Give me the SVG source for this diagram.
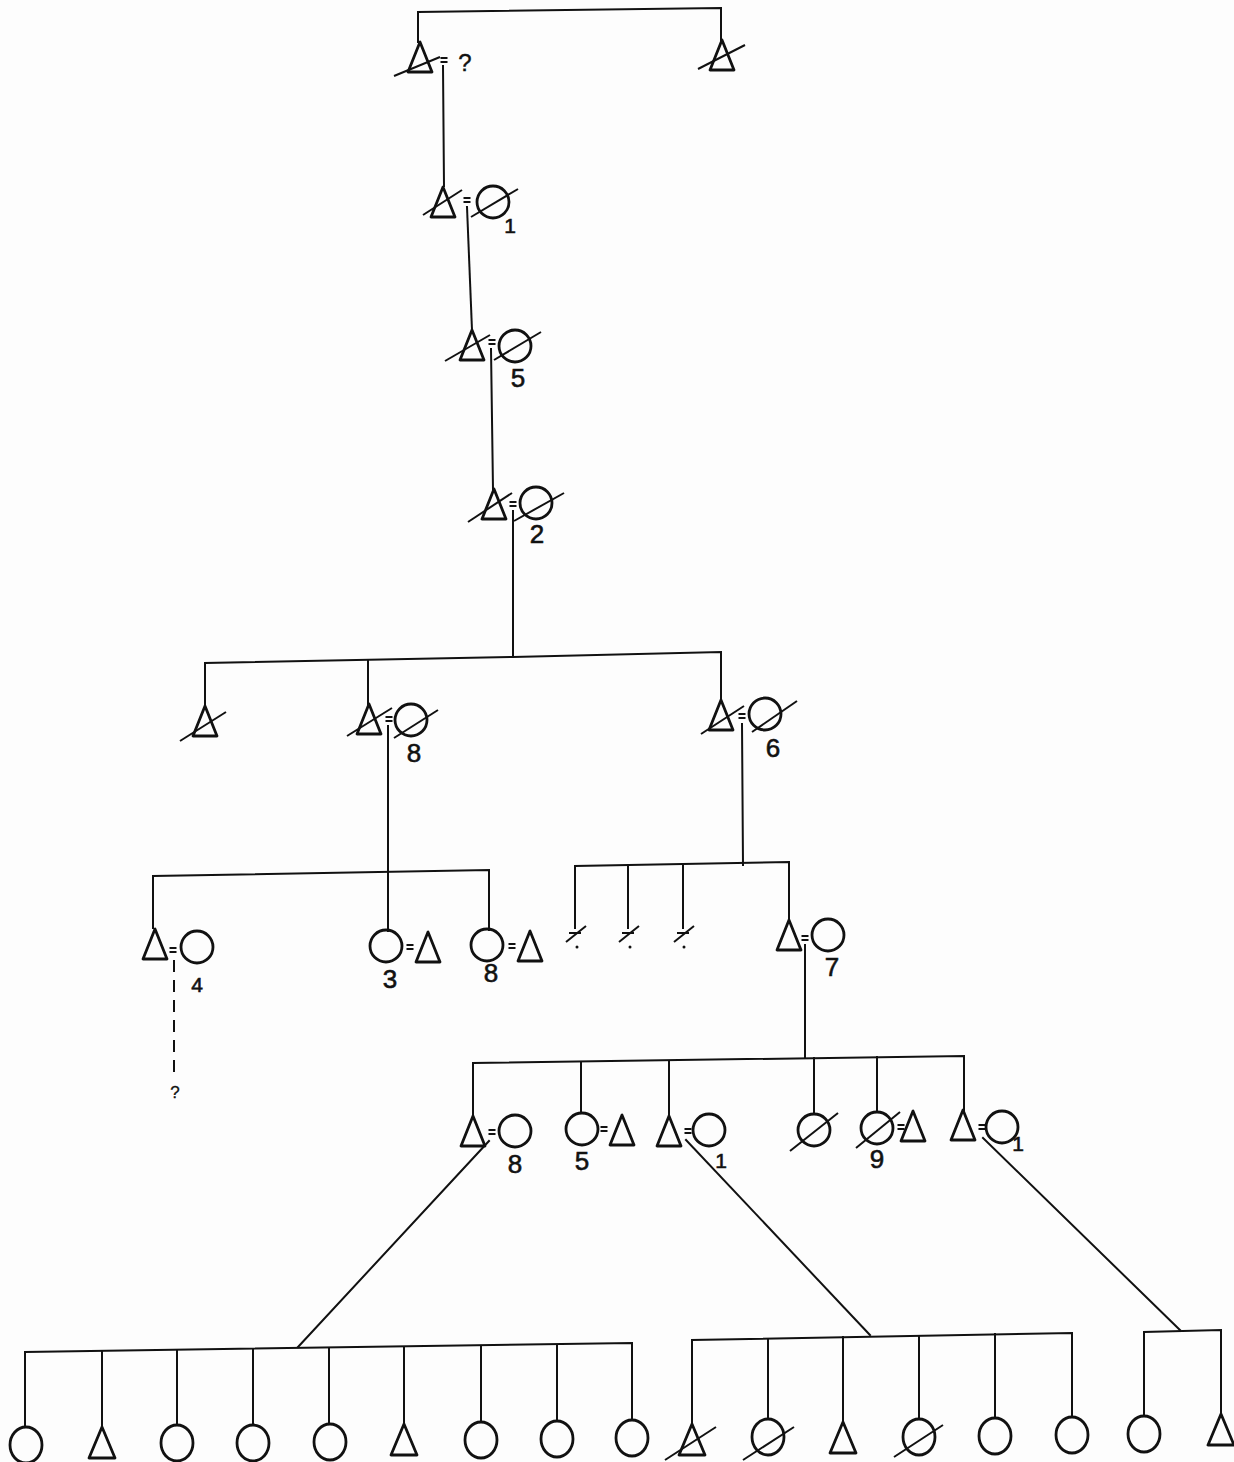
<svg xmlns="http://www.w3.org/2000/svg" xmlns:xlink="http://www.w3.org/1999/xlink" width="1234" height="1462" viewBox="0 0 1234 1462">
<style>
.bg{fill:#fdfdfd}
.ln{stroke:#111;stroke-width:2;fill:none;stroke-linecap:square}
.sh{stroke:#111;stroke-width:2.8;fill:none;stroke-linejoin:round}
.sl{stroke:#111;stroke-width:2;fill:none}
.eq{stroke:#111;stroke-width:2.2;fill:none}
.dash{stroke:#111;stroke-width:2;fill:none;stroke-dasharray:12,8}
.lbl{font-family:"Liberation Sans","DejaVu Sans",sans-serif;font-size:26px;fill:#111;stroke:#111;stroke-width:0.6;text-anchor:middle}
.sm{font-size:21px}
.q{font-size:24px;stroke-width:0.4}
.q2{font-size:17px;stroke-width:0.3}
</style>
<defs>
<path id="tri" d="M0,0 L-12,30 L12,30 Z"/>
<path id="triB" d="M0,0 L-13,31 L13,31 Z"/>
<ellipse id="cir" cx="0" cy="0" rx="16" ry="16"/>
<ellipse id="cirB" cx="0" cy="0" rx="16" ry="18"/>
<path id="eqs" d="M-3.5,0 H3.5 M-3.5,4 H3.5"/>
<path id="infant" d="M-6,0 H6 M-9,9 L11,-7"/>
</defs>
<rect class="bg" x="0" y="0" width="1234" height="1462"/>

<g id="connectors">
<path class="ln" d="M418,42 V12 L721,8 V40"/>
<path class="ln" d="M443,66 L444,186"/>
<path class="ln" d="M467,207 L472,330"/>
<path class="ln" d="M491,349 L493,489"/>
<path class="ln" d="M513,511 V657"/>
<path class="ln" d="M205,705 V663 L513,657 L721,652 V700"/>
<path class="ln" d="M368,660 V704"/>
<path class="ln" d="M388,726 V931"/>
<path class="ln" d="M153,928 V876 L489,870 V930"/>
<path class="dash" d="M174,960 V1080"/>
<path class="ln" d="M742,724 L743,865"/>
<path class="ln" d="M575,928 V866 L789,862 V920"/>
<path class="ln" d="M628,865 V928"/>
<path class="ln" d="M683,865 V928"/>
<path class="ln" d="M805,945 V1057"/>
<path class="ln" d="M473,1116 V1063 L964,1056 V1110"/>
<path class="ln" d="M581,1062 V1113"/>
<path class="ln" d="M669,1061 V1116"/>
<path class="ln" d="M814,1058 V1114"/>
<path class="ln" d="M877,1057 V1112"/>
<path class="ln" d="M489,1141 L298,1347"/>
<path class="ln" d="M686,1140 L870,1335"/>
<path class="ln" d="M983,1138 L1180,1330"/>
<path class="ln" d="M25,1427 V1352 L632,1343 V1420"/>
<path class="ln" d="M102,1351 V1427"/>
<path class="ln" d="M177,1350 V1425"/>
<path class="ln" d="M253,1349 V1425"/>
<path class="ln" d="M329,1348 V1424"/>
<path class="ln" d="M404,1347 V1424"/>
<path class="ln" d="M481,1346 V1422"/>
<path class="ln" d="M557,1345 V1421"/>
<path class="ln" d="M692,1424 V1340 L1072,1333 V1417"/>
<path class="ln" d="M768,1339 V1419"/>
<path class="ln" d="M843,1337 V1422"/>
<path class="ln" d="M919,1336 V1419"/>
<path class="ln" d="M995,1334 V1418"/>
<path class="ln" d="M1144,1416 V1332 L1221,1330 V1414"/>
</g>

<g id="gen1">
<g id="n-g1a"><use href="#tri" class="sh" x="420" y="42"/><path class="sl" d="M394,76 L440,57"/><use href="#eqs" class="eq" x="444" y="58"/><text class="lbl q" x="465" y="71">?</text></g>
<g id="n-g1b"><use href="#tri" class="sh" x="722" y="40"/><path class="sl" d="M698,69 L745,45"/></g>
</g>

<g id="gen2">
<g id="n-g2"><use href="#tri" class="sh" x="443" y="187"/><path class="sl" d="M423,215 L462,190"/><use href="#eqs" class="eq" x="467" y="198"/><use href="#cir" class="sh" x="493" y="202"/><path class="sl" d="M471,217 L518,189"/><text class="lbl sm" x="510" y="233">1</text></g>
</g>

<g id="gen3">
<g id="n-g3"><use href="#tri" class="sh" x="472" y="330"/><path class="sl" d="M445,361 L490,335"/><use href="#eqs" class="eq" x="492" y="340"/><use href="#cir" class="sh" x="515" y="346"/><path class="sl" d="M494,360 L541,332"/><text class="lbl" x="518" y="387">5</text></g>
</g>

<g id="gen4">
<g id="n-g4"><use href="#tri" class="sh" x="494" y="489"/><path class="sl" d="M468,522 L512,493"/><use href="#eqs" class="eq" x="513" y="502"/><use href="#cir" class="sh" x="536" y="503"/><path class="sl" d="M514,521 L564,493"/><text class="lbl" x="537" y="543">2</text></g>
</g>

<g id="gen5">
<g id="n-g5a"><use href="#tri" class="sh" x="205" y="706"/><path class="sl" d="M180,741 L226,712"/></g>
<g id="n-g5b"><use href="#tri" class="sh" x="369" y="704"/><path class="sl" d="M347,736 L392,708"/><use href="#eqs" class="eq" x="389" y="717"/><use href="#cir" class="sh" x="411" y="720"/><path class="sl" d="M394,738 L438,710"/><text class="lbl" x="414" y="762">8</text></g>
<g id="n-g5c"><use href="#tri" class="sh" x="721" y="700"/><path class="sl" d="M701,734 L744,706"/><use href="#eqs" class="eq" x="742" y="714"/><use href="#cir" class="sh" x="765" y="714"/><path class="sl" d="M752,732 L797,701"/><text class="lbl" x="773" y="757">6</text></g>
</g>

<g id="gen6">
<g id="n-g6a"><use href="#tri" class="sh" x="155" y="929"/><use href="#eqs" class="eq" x="173" y="948"/><use href="#cir" class="sh" x="197" y="947"/><text class="lbl sm" x="197" y="992">4</text><text class="lbl q2" x="175" y="1098">?</text></g>
<g id="n-g6b"><use href="#cir" class="sh" x="386" y="946"/><use href="#eqs" class="eq" x="410" y="945"/><use href="#tri" class="sh" x="428" y="932"/><text class="lbl" x="390" y="988">3</text></g>
<g id="n-g6c"><use href="#cir" class="sh" x="487" y="945"/><use href="#eqs" class="eq" x="512" y="944"/><use href="#tri" class="sh" x="530" y="931"/><text class="lbl" x="491" y="982">8</text></g>
<g id="n-g6d"><use href="#infant" class="sl" x="575" y="933"/><circle cx="577" cy="947" r="1.5" fill="#111"/></g>
<g id="n-g6e"><use href="#infant" class="sl" x="628" y="933"/><circle cx="630" cy="947" r="1.5" fill="#111"/></g>
<g id="n-g6f"><use href="#infant" class="sl" x="683" y="933"/><circle cx="684" cy="947" r="1.5" fill="#111"/></g>
<g id="n-g6g"><use href="#tri" class="sh" x="789" y="920"/><use href="#eqs" class="eq" x="805" y="936"/><use href="#cir" class="sh" x="828" y="935"/><text class="lbl" x="832" y="976">7</text></g>
</g>

<g id="gen7">
<g id="n-g7a"><use href="#tri" class="sh" x="473" y="1116"/><use href="#eqs" class="eq" x="492" y="1130"/><use href="#cir" class="sh" x="515" y="1131"/><text class="lbl" x="515" y="1173">8</text></g>
<g id="n-g7b"><use href="#cir" class="sh" x="582" y="1129"/><use href="#eqs" class="eq" x="604" y="1127"/><use href="#tri" class="sh" x="622" y="1115"/><text class="lbl" x="582" y="1170">5</text></g>
<g id="n-g7c"><use href="#tri" class="sh" x="669" y="1116"/><use href="#eqs" class="eq" x="688" y="1129"/><use href="#cir" class="sh" x="709" y="1130"/><text class="lbl sm" x="721" y="1168">1</text></g>
<g id="n-g7d"><use href="#cir" class="sh" x="814" y="1130"/><path class="sl" d="M790,1151 L838,1113"/></g>
<g id="n-g7e"><use href="#cir" class="sh" x="877" y="1128"/><path class="sl" d="M856,1148 L900,1112"/><use href="#eqs" class="eq" x="901" y="1125"/><use href="#tri" class="sh" x="913" y="1111"/><text class="lbl" x="877" y="1168">9</text></g>
<g id="n-g7f"><use href="#tri" class="sh" x="963" y="1110"/><use href="#eqs" class="eq" x="982" y="1125"/><use href="#cir" class="sh" x="1002" y="1127"/><text class="lbl sm" x="1018" y="1151">1</text></g>
</g>

<g id="gen8">
<g id="n-b1"><use href="#cirB" class="sh" x="26" y="1445"/></g>
<g id="n-b2"><use href="#triB" class="sh" x="102" y="1427"/></g>
<g id="n-b3"><use href="#cirB" class="sh" x="177" y="1443"/></g>
<g id="n-b4"><use href="#cirB" class="sh" x="253" y="1443"/></g>
<g id="n-b5"><use href="#cirB" class="sh" x="330" y="1442"/></g>
<g id="n-b6"><use href="#triB" class="sh" x="404" y="1424"/></g>
<g id="n-b7"><use href="#cirB" class="sh" x="481" y="1440"/></g>
<g id="n-b8"><use href="#cirB" class="sh" x="557" y="1439"/></g>
<g id="n-b9"><use href="#cirB" class="sh" x="632" y="1438"/></g>
<g id="n-b10"><use href="#triB" class="sh" x="692" y="1424"/><path class="sl" d="M665,1460 L716,1427"/></g>
<g id="n-b11"><use href="#cirB" class="sh" x="768" y="1437"/><path class="sl" d="M743,1460 L794,1427"/></g>
<g id="n-b12"><use href="#triB" class="sh" x="843" y="1422"/></g>
<g id="n-b13"><use href="#cirB" class="sh" x="919" y="1437"/><path class="sl" d="M894,1457 L943,1425"/></g>
<g id="n-b14"><use href="#cirB" class="sh" x="995" y="1436"/></g>
<g id="n-b15"><use href="#cirB" class="sh" x="1072" y="1435"/></g>
<g id="n-b16"><use href="#cirB" class="sh" x="1144" y="1434"/></g>
<g id="n-b17"><use href="#triB" class="sh" x="1221" y="1414"/></g>
</g>
</svg>
